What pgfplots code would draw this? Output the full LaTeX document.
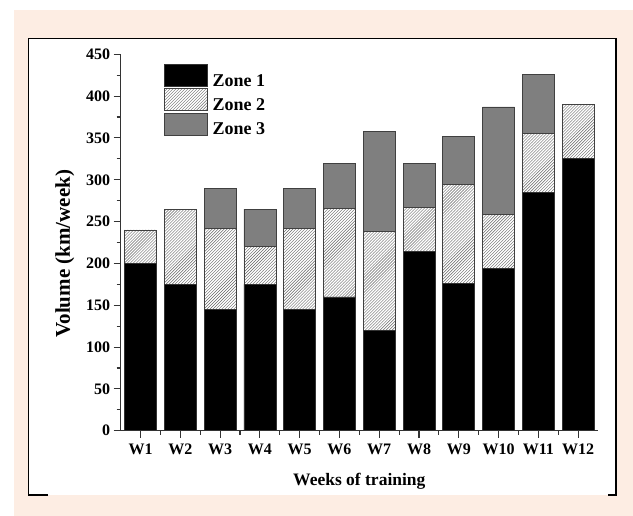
\documentclass[border=0pt]{standalone}
\usepackage{fontspec}
\setmainfont{Liberation Serif}
\usepackage{pgfplots}
\pgfplotsset{compat=1.18}
\usetikzlibrary{patterns}
\definecolor{peach}{HTML}{FDEDE3}
\definecolor{zthree}{HTML}{7F7F7F}
\begin{document}
\begin{tikzpicture}[x=1bp,y=1bp]
\useasboundingbox (0,0) rectangle (633,516);
\fill[white] (0,0) rectangle (633,516);
\fill[peach] (14,0) rectangle (633,506);
\fill[white] (28.5,21) rectangle (616,477.5);
\draw[line width=1.7bp] (48,21) -- (28.5,21) -- (28.5,477.5) -- (616,477.5) -- (616,21) -- (608,21);
\begin{axis}[
  at={(120.7bp,85.3bp)}, anchor=south west,
  scale only axis, width=477.3bp, height=376.4bp,
  ybar stacked, bar width=32bp,
  xmin=0.5, xmax=12.5, ymin=0, ymax=450,
  axis x line*=bottom, axis y line*=left,
  axis line style={line width=1.3bp, draw=black!80},
  every tick/.style={line width=1.1bp, draw=black!80},
  xtick={1,...,12},
  xticklabels={W1,W2,W3,W4,W5,W6,W7,W8,W9,W10,W11,W12},
  minor xtick={1.5,2.5,...,11.5},
  ytick={0,50,...,450}, minor y tick num=1,
  tick align=outside,
  major tick length=7bp, minor tick length=4bp,
  /pgf/number format/assume math mode=true,
  tick label style={font=\fontsize{16bp}{18bp}\selectfont\bfseries},
  xticklabel style={yshift=-3bp},
  xlabel={Weeks of training}, ylabel={Volume (km/week)},
  xlabel style={font=\fontsize{17.5bp}{20bp}\selectfont\bfseries, at={(axis description cs:0.5,-0.134)}, anchor=center},
  ylabel style={font=\fontsize{21bp}{23bp}\selectfont\bfseries, at={(axis description cs:-0.117,0.47)}, anchor=center},
  legend style={at={(axis description cs:0.0907,0.973)}, anchor=north west, draw=none, fill=none,
    inner sep=0pt, outer sep=0pt, row sep=0.5bp,
    font=\fontsize{18bp}{20bp}\selectfont\bfseries,
    nodes={inner sep=0pt, outer sep=0pt}},
  legend cell align=left,
  legend image code/.code={\draw[#1, line width=0.7bp] (0bp,-5.5bp) rectangle (43bp,16.5bp); \path (48bp,0bp);},
]
\addplot[fill=black, draw=black!80, line width=0.7bp] coordinates {
 (1,200) (2,175) (3,145) (4,175) (5,145) (6,160) (7,120) (8,214) (9,176) (10,194) (11,285) (12,326)};
\addplot[fill=white, pattern=north east lines, pattern color=black!60, draw=black!75, line width=0.7bp] coordinates {
 (1,40) (2,90) (3,97) (4,45) (5,97) (6,106) (7,118) (8,53) (9,118) (10,65) (11,70) (12,64)};
\addplot[fill=zthree, draw=black!75, line width=0.7bp] coordinates {
 (1,0) (2,0) (3,48) (4,45) (5,48) (6,54) (7,120) (8,53) (9,58) (10,128) (11,71) (12,0)};
\legend{Zone 1, Zone 2, Zone 3}
\end{axis}
\end{tikzpicture}
\end{document}
